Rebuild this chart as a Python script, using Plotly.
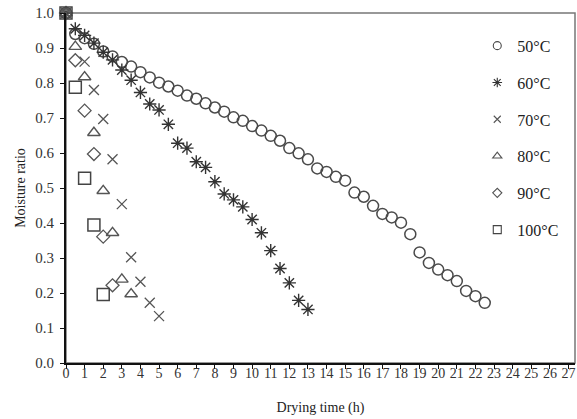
import plotly.graph_objects as go

# Drying time (h) and moisture ratio for each drying temperature
t50 = [0, 0.5, 1.0, 1.5, 2.0, 2.5, 3.0, 3.5, 4.0, 4.5, 5.0, 5.5, 6.0, 6.5, 7.0, 7.5, 8.0, 8.5, 9.0, 9.5,
       10.0, 10.5, 11.0, 11.5, 12.0, 12.5, 13.0, 13.5, 14.0, 14.5, 15.0, 15.5, 16.0, 16.5, 17.0, 17.5,
       18.0, 18.5, 19.0, 19.5, 20.0, 20.5, 21.0, 21.5, 22.0, 22.5]
mr50 = [1.0, 0.940, 0.928, 0.912, 0.890, 0.876, 0.860, 0.847, 0.831, 0.816, 0.801, 0.790, 0.778, 0.764,
        0.755, 0.742, 0.730, 0.718, 0.702, 0.692, 0.677, 0.664, 0.649, 0.635, 0.614, 0.599, 0.582, 0.556,
        0.546, 0.532, 0.521, 0.487, 0.475, 0.449, 0.426, 0.416, 0.401, 0.368, 0.316, 0.286, 0.267, 0.251,
        0.234, 0.206, 0.191, 0.172]

t60 = [0, 0.5, 1.0, 1.5, 2.0, 2.5, 3.0, 3.5, 4.0, 4.5, 5.0, 5.5, 6.0, 6.5, 7.0, 7.5, 8.0, 8.5, 9.0, 9.5,
       10.0, 10.5, 11.0, 11.5, 12.0, 12.5, 13.0]
mr60 = [1.0, 0.955, 0.936, 0.914, 0.888, 0.866, 0.837, 0.808, 0.773, 0.740, 0.723, 0.682, 0.628, 0.614,
        0.575, 0.559, 0.518, 0.483, 0.466, 0.446, 0.410, 0.372, 0.321, 0.270, 0.229, 0.179, 0.153]

t70 = [0, 1.0, 1.5, 2.0, 2.5, 3.0, 3.5, 4.0, 4.5, 5.0]
mr70 = [1.0, 0.861, 0.780, 0.697, 0.582, 0.454, 0.302, 0.232, 0.172, 0.134]

t80 = [0, 0.5, 1.0, 1.5, 2.0, 2.5, 3.0, 3.5]
mr80 = [1.0, 0.904, 0.817, 0.658, 0.492, 0.372, 0.239, 0.197]

t90 = [0, 0.5, 1.0, 1.5, 2.0, 2.5]
mr90 = [1.0, 0.865, 0.721, 0.597, 0.361, 0.222]

t100 = [0, 0.5, 1.0, 1.5, 2.0]
mr100 = [1.0, 0.788, 0.528, 0.394, 0.196]

series_names = ["50°C", "60°C", "70°C", "80°C", "90°C", "100°C"]
x_ticks = list(range(0, 28))
y_ticks = [0.0, 0.1, 0.2, 0.3, 0.4, 0.5, 0.6, 0.7, 0.8, 0.9, 1.0]

styles = [
    dict(symbol="circle-open", size=11, color="#4a4a4a", line=dict(width=1.5, color="#4a4a4a")),
    dict(symbol="asterisk-open", size=11, color="#333333", line=dict(width=1.4, color="#333333")),
    dict(symbol="x-thin-open", size=10, color="#555555", line=dict(width=1.3, color="#555555")),
    dict(symbol="triangle-up-open", size=11, color="#555555", line=dict(width=1.4, color="#555555")),
    dict(symbol="diamond-open", size=10, color="#555555", line=dict(width=1.3, color="#555555")),
    dict(symbol="square-open", size=12, color="#444444", line=dict(width=1.5, color="#444444")),
]
legend_sizes = [8, 8, 7, 8, 7, 8]

data = [(t50, mr50), (t60, mr60), (t70, mr70), (t80, mr80), (t90, mr90), (t100, mr100)]

fig = go.Figure()
for i, ((tx, my), name) in enumerate(zip(data, series_names)):
    fig.add_trace(go.Scatter(
        x=tx, y=my, mode="markers", name=name, legendgroup=name, showlegend=False,
        marker=styles[i], cliponaxis=False,
    ))
# legend entries with small symbols, as in the reference
for i, name in enumerate(series_names):
    st = dict(styles[i])
    st["size"] = legend_sizes[i]
    st["line"] = dict(width=1.1, color=styles[i]["color"])
    fig.add_trace(go.Scatter(
        x=[None], y=[None], mode="markers", name=name, legendgroup=name, showlegend=True,
        marker=st,
    ))

font = "Liberation Serif, Times New Roman, serif"
fig.update_layout(
    width=577, height=419,
    margin=dict(l=66, r=2, t=13, b=56, autoexpand=False),
    paper_bgcolor="white", plot_bgcolor="white",
    font=dict(family=font, size=14, color="#222222"),
    showlegend=True,
    legend=dict(x=0.808, y=0.955, xanchor="left", yanchor="top",
                font=dict(family=font, size=16, color="#222222"),
                bgcolor="rgba(0,0,0,0)", tracegroupgap=13, itemwidth=30),
    xaxis=dict(range=[0, 27.35], tickmode="array", tickvals=x_ticks,
               ticktext=[str(v) for v in x_ticks],
               showgrid=False, zeroline=False, showline=True, linecolor="#111111", linewidth=2,
               ticks="outside", ticklen=4, tickcolor="#111111",
               ticklabelstandoff=-8, ticklabeloverflow="allow",
               tickfont=dict(family=font, size=14, color="#333333"),
               title=dict(text="Drying time (h)", font=dict(family=font, size=14, color="#222222"),
                          standoff=22)),
    yaxis=dict(range=[0, 1.0], tickmode="array", tickvals=y_ticks,
               ticktext=[f"{v:.1f}" for v in y_ticks],
               showgrid=False, zeroline=False, showline=True, linecolor="#111111", linewidth=2,
               ticks="outside", ticklen=4, tickcolor="#111111",
               ticklabelstandoff=3, ticklabeloverflow="allow",
               tickfont=dict(family=font, size=15, color="#333333"),
               title=dict(text="Moisture ratio", font=dict(family=font, size=14, color="#222222"),
                          standoff=6)),
    shapes=[dict(type="rect", xref="paper", yref="paper", x0=0, y0=0, x1=1, y1=1,
                 line=dict(color="#777777", width=1.5), layer="below")],
)

fig.write_html("out.html", config={"displayModeBar": False, "staticPlot": True},
               post_script="document.body.style.margin='0';document.body.style.overflow='hidden';")
